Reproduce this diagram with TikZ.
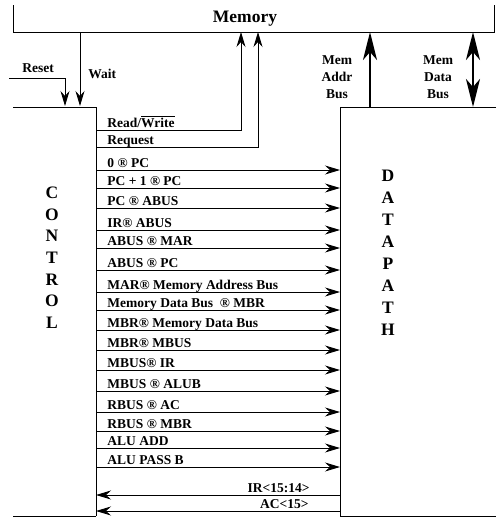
\documentclass[tikz,border=0pt]{standalone}
\usepackage{fontspec}
\setmainfont{Liberation Serif}
\usetikzlibrary{arrows.meta}

\begin{document}
\begin{tikzpicture}[x=1pt,y=-1pt,line width=0.9pt,
    sig/.style={-{Stealth[length=15pt,width=9pt,inset=5pt]}},
    bus/.style={line width=2.6pt,-{Stealth[length=28pt,width=14pt,inset=8pt]}},
    dbus/.style={line width=2.6pt,{Stealth[length=28pt,width=14pt,inset=8pt]}-{Stealth[length=28pt,width=14pt,inset=8pt]}},
    lbl/.style={font=\fontsize{13.5}{17}\selectfont\bfseries, inner sep=0pt},
    big/.style={font=\fontsize{17.5}{20}\selectfont\bfseries, inner sep=0pt}]
  \useasboundingbox (0,0) rectangle (496,517);
  \draw (13,5) -- (13,32) -- (494,32) -- (494,5);
  \node[big] (mem) at (245,19) {Memory};
  \draw (13,107) -- (96,107) -- (96,516) (13,516) -- (96,516);
  \draw (496,107) -- (340,107) -- (340,516) -- (496,516);

  \coordinate (rst) at (9,78);
  \coordinate (rstC) at (65,106);
  \coordinate (waitM) at (80,32);
  \coordinate (waitC) at (80,106);
  \draw[sig] (rst) -| (rstC);
  \draw[sig] (waitM) -- (waitC);
  \node[lbl, anchor=base west] (reset) at (22,72) {Reset};
  \node[lbl, anchor=base west] (wait) at (88,78) {Wait};

  \coordinate (rwC) at (96,130);
  \coordinate (rwM) at (241,32);
  \coordinate (reqC) at (96,147);
  \coordinate (reqM) at (258,32);
  \draw[sig] (rwC) -| (rwM);
  \draw[sig] (reqC) -| (reqM);
  \node[lbl, anchor=base west] (rw) at (107,127) {Read/$\overline{\mbox{Write}}$};
  \node[lbl, anchor=base west] (req) at (107,144) {Request};

  \coordinate (abD) at (370,107);
  \coordinate (abM) at (370,32);
  \coordinate (dbD) at (473,107);
  \coordinate (dbM) at (473,32);
  \draw[bus] (abD) -- (abM);
  \draw[dbus] (dbD) -- (dbM);
  \node[lbl, align=center] (ablbl) at (337,77) {Mem\\Addr\\Bus};
  \node[lbl, align=center] (dblbl) at (438,77) {Mem\\Data\\Bus};

  \foreach \y/\txt [count=\i] in {170/{0 ® PC}, 188/{PC + 1 ® PC}, 208/{PC ® ABUS},
      230/{IR® ABUS}, 248/{ABUS ® MAR}, 270/{ABUS ® PC}, 292/{MAR® Memory Address Bus},
      310/{Memory Data Bus~~® MBR}, 330/{MBR® Memory Data Bus}, 350/{MBR® MBUS},
      370/{MBUS® IR}, 391/{MBUS ® ALUB}, 412/{RBUS ® AC}, 431/{RBUS ® MBR},
      448/{ALU ADD}, 467/{ALU PASS B}} {
    \coordinate (c\i) at (96,\y);
    \coordinate (d\i) at (340,\y);
    \draw[sig] (c\i) -- (d\i);
    \node[lbl, anchor=base west] (s\i) at (107,\y-3) {\txt};
  }

  \coordinate (irD) at (340,495);
  \coordinate (irC) at (96,495);
  \coordinate (acD) at (340,511);
  \coordinate (acC) at (96,511);
  \draw[sig] (irD) -- (irC);
  \draw[sig] (acD) -- (acC);
  \node[lbl, anchor=base east] (irlbl) at (310,492) {IR<15:14>};
  \node[lbl, anchor=base east] (aclbl) at (309,508) {AC<15>};

  \foreach \l [count=\i] in {C,O,N,T,R,O,L}
    \node[big] (ctl\i) at (52,171+21.7*\i) {\l};
  \foreach \l [count=\i] in {D,A,T,A,P,A,T,H}
    \node[big] (dp\i) at (388,154+22*\i) {\l};
\end{tikzpicture}
\end{document}
